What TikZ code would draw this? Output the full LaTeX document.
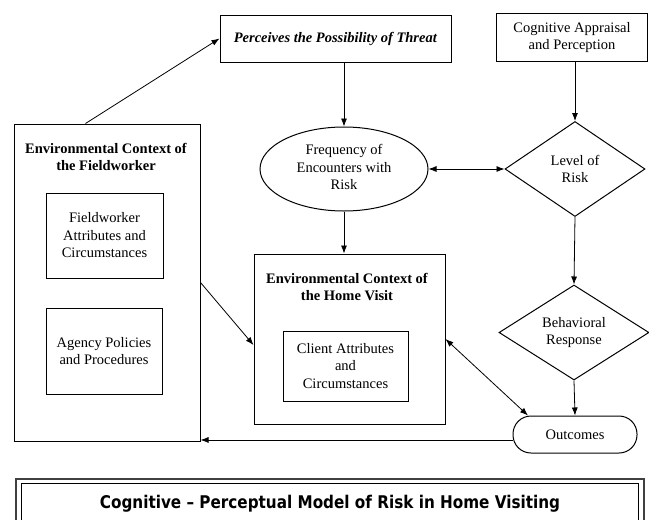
\documentclass[tikz,border=0pt]{standalone}
\usepackage{fontspec}
\setmainfont{Liberation Serif}
\newfontfamily\titlefont[FakeStretch=0.87]{DejaVu Sans}
\usetikzlibrary{shapes.geometric,arrows.meta,calc}
\begin{document}
\begin{tikzpicture}[x=1pt,y=-1pt,
  txt/.style={font=\fontsize{14.5}{17.5}\selectfont, align=center, inner sep=0pt},
  btxt/.style={font=\fontsize{14.5}{17.5}\selectfont\bfseries, align=center, inner sep=0pt},
  box/.style={draw, line width=1pt},
  arr/.style={-{Latex[length=8pt,width=6pt]}, line width=0.8pt},
  darr/.style={{Latex[length=8pt,width=6pt]}-{Latex[length=8pt,width=6pt]}, line width=0.8pt}]
\clip (0,0) rectangle (649,520);
\fill[white] (0,0) rectangle (649,520);

\node[box, txt, minimum width=231pt, minimum height=47pt] (perc) at (335.5,38.5) {\textbf{\textit{Perceives the Possibility of Threat}}};
\node[box, txt, minimum width=151pt, minimum height=48pt] (cog) at (572,37.5) {Cognitive Appraisal\\and Perception};

\node[box, minimum width=186pt, minimum height=317pt] (leftbox) at (107,282.5) {};
\node[btxt] (lefttitle) at (106,157) {Environmental Context of\\the Fieldworker};
\node[box, txt, minimum width=117pt, minimum height=85pt] (fwa) at (104.5,235.5) {Fieldworker\\Attributes and\\Circumstances};
\node[box, txt, minimum width=116pt, minimum height=86pt] (agency) at (104,351) {Agency Policies\\and Procedures};

\node[draw, ellipse, line width=1pt, txt, minimum width=168pt, minimum height=84pt, text depth=4pt] (freq) at (344,169) {Frequency of\\Encounters with\\Risk};
\node[draw, diamond, aspect=1.5, line width=1pt, txt, minimum width=140pt, minimum height=95pt] (level) at (575,169) {Level of\\Risk};

\node[box, minimum width=191pt, minimum height=170pt] (hbox) at (349.5,339) {};
\node[btxt] (htitle) at (347,287) {Environmental Context of\\the Home Visit};
\node[box, txt, minimum width=125pt, minimum height=70pt] (client) at (345.5,366) {Client Attributes\\and\\Circumstances};

\node[draw, diamond, aspect=1.6, line width=1pt, txt, minimum width=150pt, minimum height=95pt] (behav) at (574,332.5) {Behavioral\\Response};
\node[draw, rounded corners=18pt, line width=1pt, txt, minimum width=124pt, minimum height=37pt] (outc) at (575,434.5) {Outcomes};

\draw[arr] ($(leftbox.north west)+(72,0)$) -- (perc.west);
\draw[arr] (perc.south -| freq.north) -- (freq.north);
\draw[arr] (freq.south) -- (freq.south |- hbox.north);
\draw[arr] (cog.south -| level.north) -- (level.north);
\draw[darr] (freq.east) -- (level.west);
\draw[arr] (level.south) -- (behav.north);
\draw[arr] (behav.south) -- (outc.north);
\draw[arr] (leftbox.east) -- ($(hbox.west)+(0,6)$);
\draw[darr] (hbox.east) -- (outc.158);
\draw[arr] (outc.185) -- (outc.185 -| leftbox.east);

\draw[line width=2pt, black!75] (16,479) rectangle (644,540);
\draw[line width=0.8pt] (21,483.5) rectangle (638.5,540);
\node[font=\titlefont\fontsize{17.5}{20}\selectfont\bfseries, inner sep=0pt] (title) at (330,504) {Cognitive – Perceptual Model of Risk in Home Visiting};
\end{tikzpicture}
\end{document}
